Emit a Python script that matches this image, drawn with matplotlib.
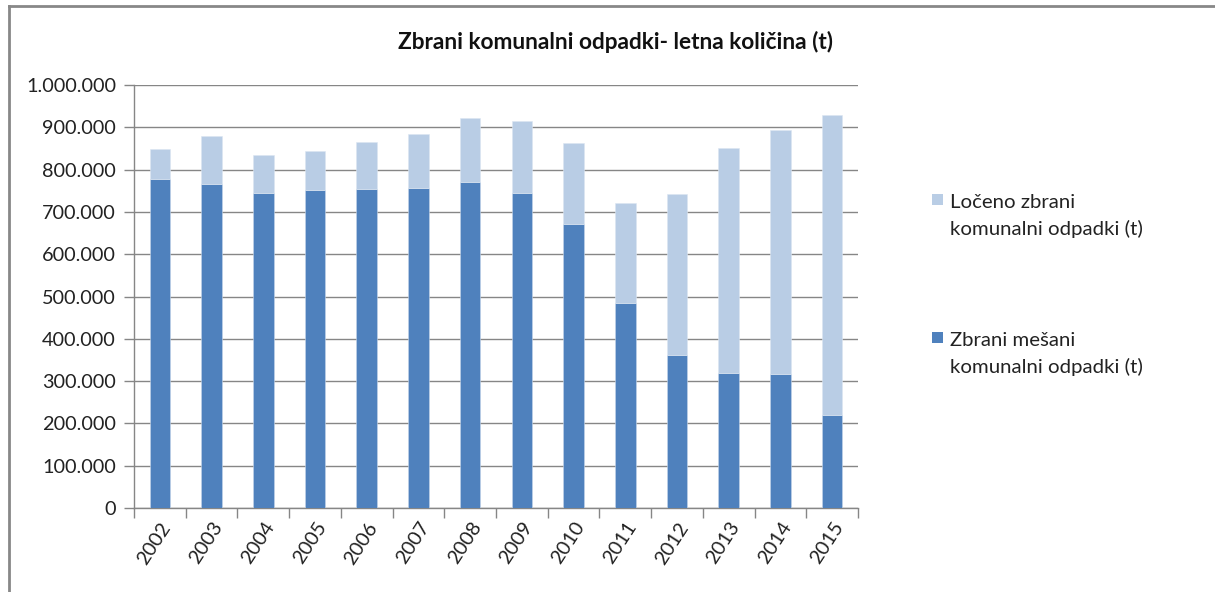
import matplotlib
matplotlib.use("Agg")
import matplotlib.pyplot as plt
from matplotlib.ticker import FuncFormatter, FixedLocator, MultipleLocator
from matplotlib.patches import Rectangle

years = ["2002", "2003", "2004", "2005", "2006", "2007", "2008",
         "2009", "2010", "2011", "2012", "2013", "2014", "2015"]
mixed = [777000, 767000, 745000, 751000, 753000, 756000, 770000,
         745000, 671000, 485000, 361000, 319000, 316000, 219000]
total = [849000, 879000, 834000, 844000, 865000, 884000, 922000,
         914000, 863000, 721000, 742000, 852000, 893000, 930000]
separate = [t - m for t, m in zip(total, mixed)]

title = "Zbrani komunalni odpadki- letna količina (t)"
label_sep = "Ločeno zbrani\nkomunalni odpadki (t)"
label_mix = "Zbrani mešani\nkomunalni odpadki (t)"

c_dark = "#4F81BD"
c_light = "#B9CDE5"
grid_c = "#868686"

plt.rcParams['font.family'] = ['Lato', 'DejaVu Sans']

W, H = 1215, 592
fig = plt.figure(figsize=(W / 100, H / 100), dpi=100)
ax = fig.add_axes([134/W, 1-508/H, (858-134)/W, (508-85)/H])

x = list(range(len(years)))
ax.bar(x, mixed, width=0.4, color=c_dark, edgecolor="#C6D6EA", linewidth=0.4, zorder=3)
ax.bar(x, separate, width=0.4, bottom=mixed, color=c_light, edgecolor="#DCE6F2", linewidth=0.4, zorder=3)

ax.set_xlim(-0.5, len(years) - 0.5)
ax.set_ylim(0, 1000000)
ax.yaxis.set_major_locator(MultipleLocator(100000))
ax.yaxis.set_major_formatter(FuncFormatter(lambda v, p: f"{int(round(v)):,}".replace(",", ".")))
ax.grid(axis="y", color=grid_c, linewidth=1.0, zorder=0)
ax.set_axisbelow(True)

for s in ["top", "right"]:
    ax.spines[s].set_visible(False)
for s in ["left", "bottom"]:
    ax.spines[s].set_color(grid_c)
    ax.spines[s].set_linewidth(1.0)

ax.tick_params(axis="y", length=7, width=1, color=grid_c, labelsize=14.3, pad=6, labelcolor="#222222")
ax.set_xticks(x)
ax.set_xticklabels(years, rotation=57, ha="right", rotation_mode="anchor", fontsize=14.3, color="#222222")
ax.tick_params(axis="x", length=0, pad=8)
ax.xaxis.set_minor_locator(FixedLocator([i - 0.5 for i in range(len(years) + 1)]))
ax.tick_params(axis="x", which="minor", length=7, width=1, color=grid_c)

fig.text(616/W, 1-42/H, title, ha="center", va="center", fontsize=16.3, fontweight="bold", color="#111111")

# legend (manual, to match the Excel layout)
for color, label, ytop in [(c_light, label_sep, 194), (c_dark, label_mix, 332)]:
    fig.add_artist(Rectangle((932/W, 1-(ytop+11)/H), 11/W, 11/H, transform=fig.transFigure,
                             facecolor=color, edgecolor="none"))
    fig.text(950/W, 1-(ytop+22)/H, label, ha="left", va="center", fontsize=14.7,
             linespacing=1.55, color="#222222")

# outer chart border
fig.add_artist(plt.Line2D([9/W, 1.0], [1-6/H, 1-6/H], color="#888888", linewidth=2.0, transform=fig.transFigure))
fig.add_artist(plt.Line2D([9/W, 9/W], [0.0, 1-6/H], color="#888888", linewidth=2.0, transform=fig.transFigure))

fig.savefig("out.png", dpi=100, facecolor="white")
